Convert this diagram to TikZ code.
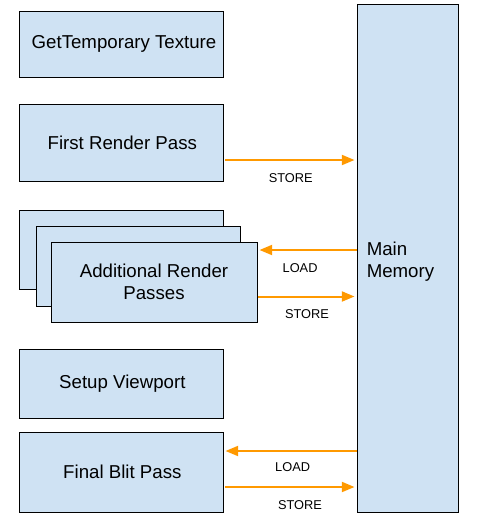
\documentclass[tikz,border=0pt]{standalone}
\usepackage{fontspec}
\setmainfont{Liberation Sans}
\usetikzlibrary{positioning}
\usetikzlibrary{calc}
\usetikzlibrary{arrows.meta}
\definecolor{boxblue}{HTML}{CFE2F3}
\definecolor{passorange}{HTML}{FF9900}

\begin{document}
\begin{tikzpicture}[
    x=0.75pt, y=-0.75pt,
    >={Triangle[length=9.5pt,width=7.5pt]},
    % node styles
    box/.style = {
      draw=black,
      line width=0.75pt,
      fill=boxblue,
      minimum width=153pt,
      inner sep=0pt,
      align=center,
      font=\fontsize{14}{16.5}\selectfont
    },
    membox/.style = {
      box,
      minimum width=75.75pt,
      minimum height=381pt
    },
    % arrow styles
    arr/.style = {->, line width=1.5pt, draw=passorange, shorten >=1.5pt},
    lbl/.style = {font=\fontsize{9.6}{11}\selectfont, yshift=-13.5pt}
  ]
  \useasboundingbox (0,0) rectangle (478,526);

  % --- Nodes
  \node[membox] (mem) at (407.5,258) {};
  \node[font=\fontsize{14}{16.5}\selectfont, align=left, anchor=west, inner sep=0pt]
    (memtext) at ($(mem.west)+(10,3.5)$) {Main\\Memory};

  \node[box, minimum height=49.5pt] (gettex) at (121,44) {\hspace{4.5pt}GetTemporary Texture};

  \node[box, minimum height=57.75pt] (first) at (121,142.5) {\hspace{2pt}First Render Pass};

  \node[box, minimum height=59.25pt] (passc) at (121,249.5) {};
  \node[box, minimum height=60pt] (passb) at (138,266) {};
  \node[box, minimum width=154.5pt, minimum height=60pt] (addpass) at (154,282) {Additional Render\\Passes};

  \node[box, minimum height=51.75pt] (setup) at (121,383.5) {\hspace{2pt}Setup Viewport};

  \node[box, minimum height=60pt] (blit) at (121,472) {\hspace{2pt}Final Blit Pass};

  % --- Arrows
  \coordinate (s1) at ($(first.east)+(1.5,17.5)$);
  \draw[arr] (s1) -- node[lbl, midway] {STORE} (s1 -| mem.west);

  \coordinate (l2) at ($(addpass.east)+(0,-32)$);
  \draw[arr] (l2 -| mem.west) -- node[lbl, pos=0.57] {LOAD} (l2);
  \coordinate (s2) at ($(addpass.east)+(0,14.5)$);
  \draw[arr] (s2) -- node[lbl, midway] {STORE} (s2 -| mem.west);

  \coordinate (l3) at ($(blit.east)+(0,-21)$);
  \draw[arr] (l3 -| mem.west) -- node[lbl, yshift=1.5pt, pos=0.48] {LOAD} (l3);
  \coordinate (s3) at ($(blit.east)+(1.5,15)$);
  \draw[arr] (s3) -- node[lbl, pos=0.57] {STORE} (s3 -| mem.west);

\end{tikzpicture}
\end{document}
